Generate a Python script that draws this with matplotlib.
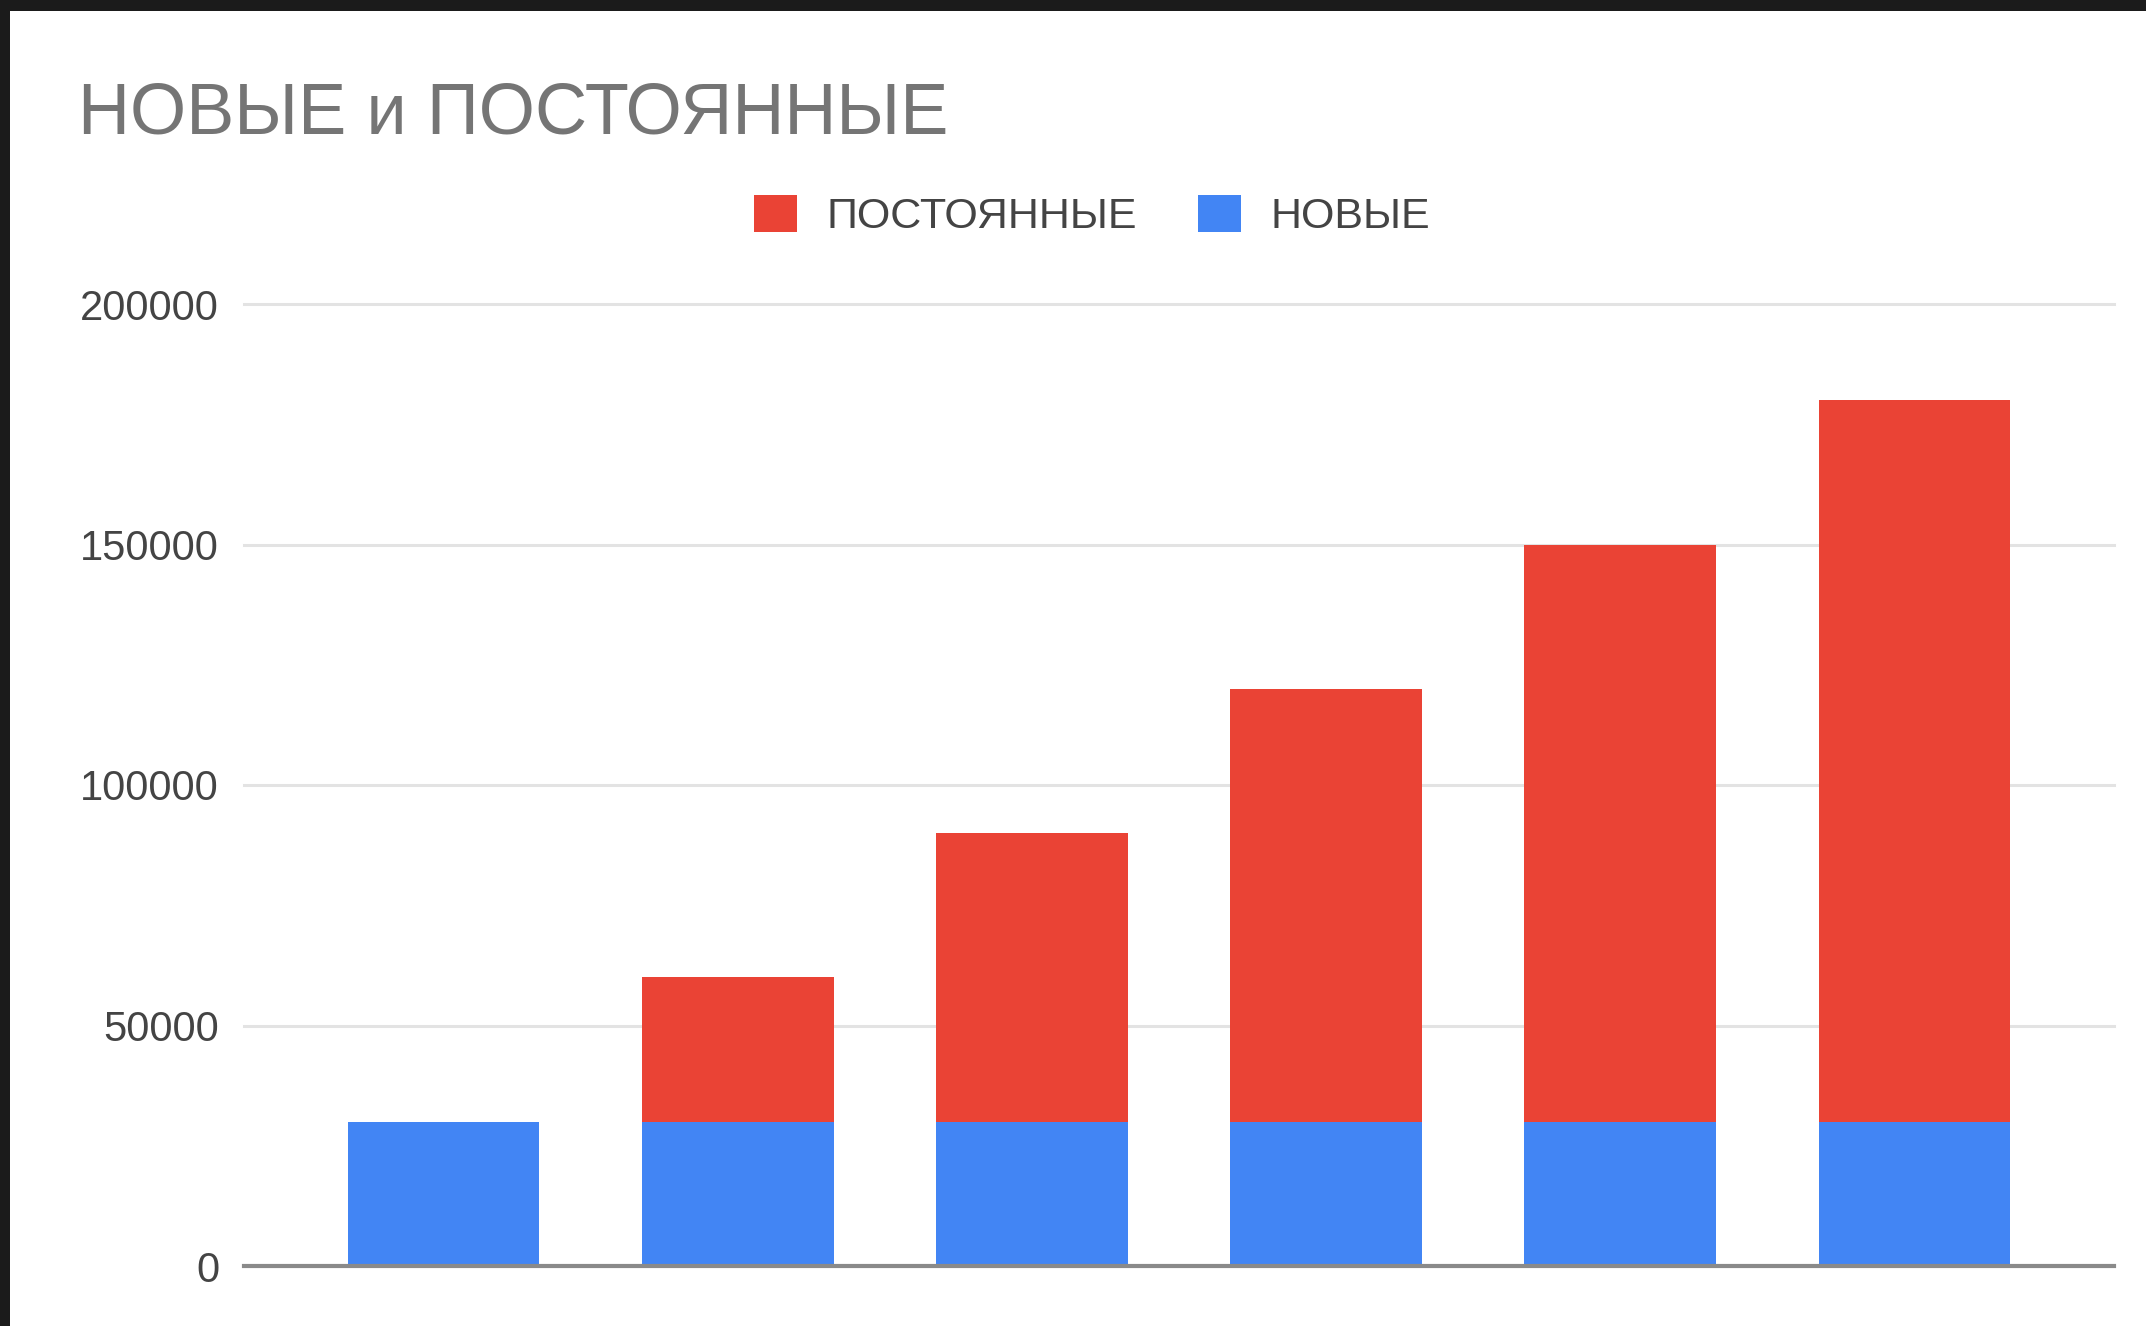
import matplotlib
matplotlib.use("Agg")
import matplotlib.pyplot as plt
from matplotlib.patches import Rectangle
import numpy as np

plt.rcParams['font.family'] = ['Liberation Sans', 'DejaVu Sans']

categories = ["1", "2", "3", "4", "5", "6"]
new_values = [30000, 30000, 30000, 30000, 30000, 30000]
regular_values = [0, 30000, 60000, 90000, 120000, 150000]
y_ticks = [0, 50000, 100000, 150000, 200000]
title = "НОВЫЕ и ПОСТОЯННЫЕ"
label_regular = "ПОСТОЯННЫЕ"
label_new = "НОВЫЕ"

RED = "#ea4335"
BLUE = "#4285f4"

W, H = 2146, 1326
fig = plt.figure(figsize=(W / 100, H / 100), dpi=100, facecolor="white")

# dark frame (top and left)
fig.patches.append(Rectangle((0, 1 - 11 / H), 1, 11 / H, transform=fig.transFigure,
                             facecolor="#1b1b1b", edgecolor="none", zorder=10))
fig.patches.append(Rectangle((0, 0), 10 / W, 1, transform=fig.transFigure,
                             facecolor="#1b1b1b", edgecolor="none", zorder=10))

ax = fig.add_axes([244 / W, 60 / H, (2114 - 244) / W, (1266 - 304) / H])
x = np.arange(len(categories))
width = 0.65
b_new = ax.bar(x, new_values, width, color=BLUE, label=label_new, zorder=3)
b_reg = ax.bar(x, regular_values, width, bottom=new_values, color=RED,
               label=label_regular, zorder=3)

ax.set_xlim(-0.68, len(categories) - 1 + 0.68)
ax.set_ylim(0, 200000)
ax.set_yticks(y_ticks)
ax.set_yticklabels([str(v) for v in y_ticks], fontsize=30, color="#444444")
ax.tick_params(axis="y", length=0, pad=18)
ax.set_xticks([])
for s in ax.spines.values():
    s.set_visible(False)
for v in y_ticks[1:]:
    ax.axhline(v, color="#e3e3e3", linewidth=2.2, zorder=1, clip_on=False)
ax.axhline(0, color="#8a8a8a", linewidth=3, zorder=4, clip_on=False)

fig.text(78 / W, 1 - 134 / H, title, fontsize=52, color="#757575",
         ha="left", va="baseline")

leg = fig.legend(handles=[b_reg, b_new], labels=[label_regular, label_new],
                 loc="center", bbox_to_anchor=(1092 / W, 1 - 216 / H), ncol=2,
                 frameon=False, fontsize=31, handlelength=1.0, handleheight=0.95,
                 handletextpad=0.7, columnspacing=1.4, labelcolor="#444444",
                 borderpad=0, borderaxespad=0)

fig.savefig("out.png", dpi=100, facecolor="white")
